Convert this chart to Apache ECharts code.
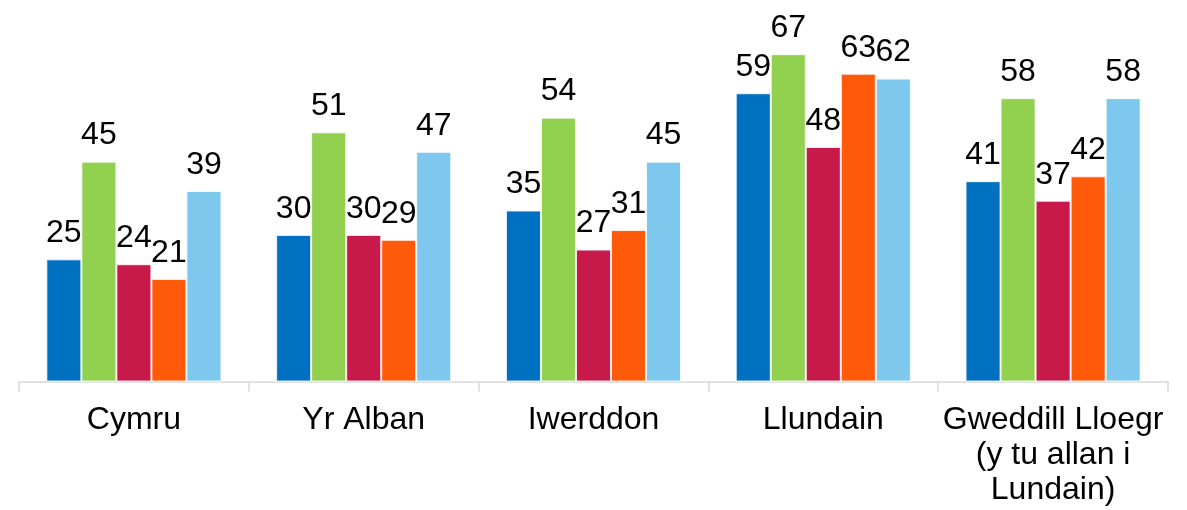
<!DOCTYPE html>
<html>
<head>
<meta charset="utf-8">
<script src="https://cdn.jsdelivr.net/npm/echarts@6/dist/echarts.min.js"></script>
<style>html,body{margin:0;padding:0;background:#fff}#c{width:1187px;height:510px}</style>
</head>
<body>
<div id="c"></div>
<script>
const categories = ['Cymru', 'Yr Alban', 'Iwerddon', 'Llundain', 'Gweddill Lloegr\n(y tu allan i\nLundain)'];
const series1 = [25, 30, 35, 59, 41];
const series2 = [45, 51, 54, 67, 58];
const series3 = [24, 30, 27, 48, 37];
const series4 = [21, 29, 31, 63, 42];
const series5 = [39, 47, 45, 62, 58];
const seriesNames = ['Cyfres 1', 'Cyfres 2', 'Cyfres 3', 'Cyfres 4', 'Cyfres 5'];
const colors = ['#0070C0', '#92D050', '#C8194B', '#FF5A0A', '#7EC8EE'];

const chart = echarts.init(document.getElementById('c'));
const all = [series1, series2, series3, series4, series5];
chart.setOption({
  animation: false,
  grid: { left: 19, right: 19, top: 39.5, bottom: 128.5, containLabel: false },
  xAxis: {
    type: 'category',
    data: categories,
    axisLine: { lineStyle: { color: '#d9d9d9', width: 1.5 } },
    axisTick: { show: true, length: 10, lineStyle: { color: '#d9d9d9', width: 1.5 } },
    axisLabel: { color: '#000', fontFamily: 'Liberation Sans, Arial, sans-serif', fontSize: 32, lineHeight: 35, margin: 21, interval: 0 }
  },
  yAxis: { type: 'value', min: 0, max: 70, show: false, splitLine: { show: false } },
  series: all.map((d, i) => ({
    name: seriesNames[i],
    type: 'bar',
    data: d,
    barGap: '0%',
    barCategoryGap: '23.8%',
    itemStyle: { color: colors[i], borderColor: 'rgba(255,255,255,0.8)', borderWidth: 1 },
    label: { show: true, position: 'top', distance: 10, color: '#000', fontFamily: 'Liberation Sans, Arial, sans-serif', fontSize: 32 }
  }))
});
</script>
</body>
</html>
